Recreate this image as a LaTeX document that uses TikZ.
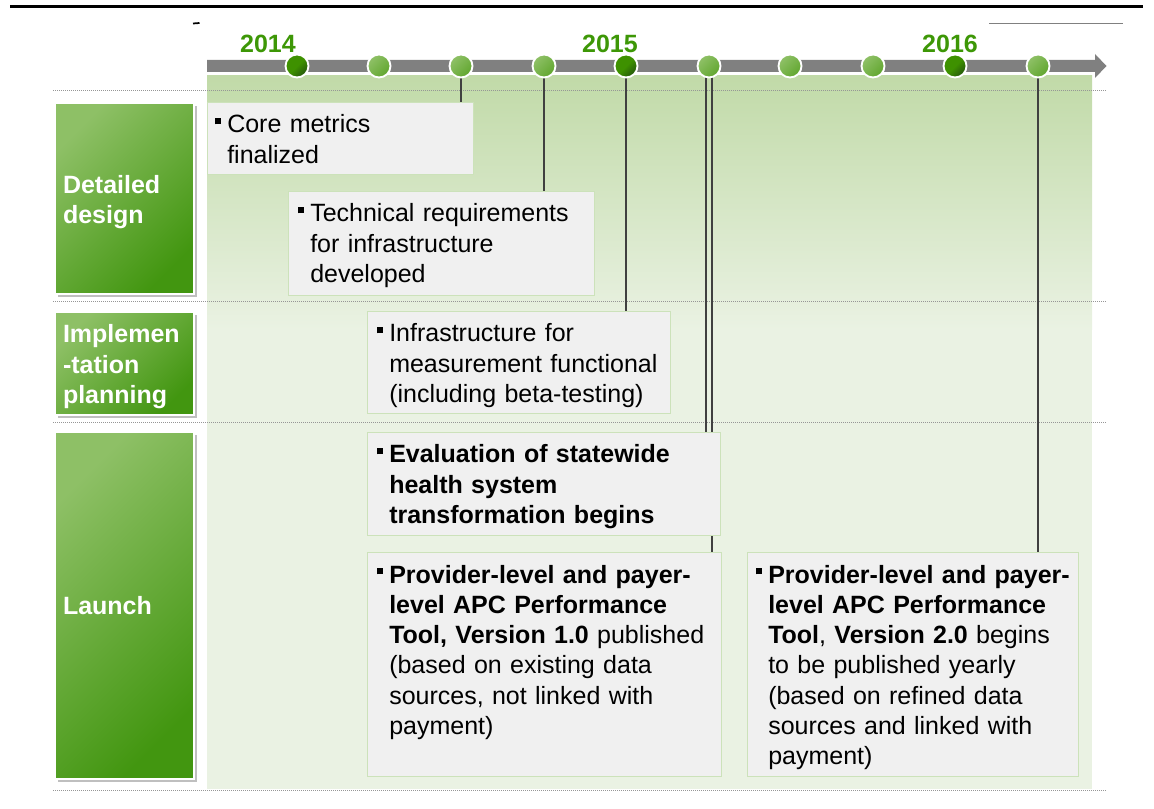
\documentclass[tikz,border=0pt]{standalone}
\usepackage{fontspec}
\setmainfont{Liberation Sans}
\usetikzlibrary{shadows}
\definecolor{yeargreen}{RGB}{61,151,6}
\definecolor{bargray}{RGB}{128,128,128}
\definecolor{evfill}{RGB}{240,240,240}
\definecolor{evborder}{RGB}{204,226,186}
\definecolor{linegray}{RGB}{64,64,64}
\definecolor{sepgray}{RGB}{150,150,150}
\definecolor{bgtop}{RGB}{193,218,168}
\definecolor{bglight}{RGB}{234,242,227}
\definecolor{phlight}{RGB}{142,192,102}
\definecolor{phdark}{RGB}{66,150,16}
\definecolor{dotdarkA}{RGB}{62,145,0}
\definecolor{dotdarkB}{RGB}{36,86,12}
\definecolor{dotlightA}{RGB}{144,193,104}
\definecolor{dotlightB}{RGB}{96,166,46}
\newcommand\sqbul{\leavevmode\llap{\rule[6.4pt]{4.5pt}{4.5pt}\hspace{4.5pt}}}
\newcommand\phstrut{\rule{0pt}{18.5pt}}
\pgfdeclarelayer{back}
\pgfdeclarelayer{lines}
\pgfsetlayers{back,lines,main}
\tikzset{
  evbox/.style={draw=evborder, fill=evfill, line width=0.75pt, anchor=north west, inner sep=0pt},
  evtext/.style={anchor=base west, inner sep=0pt, text width=260pt, align=left,
    font=\fontsize{18.75}{22.7}\selectfont},
  phase/.style={minimum width=104.25pt, text width=92.25pt, inner xsep=6pt, inner ysep=0pt,
    align=left, text=white, font=\fontsize{18.75}{22.7}\selectfont\bfseries,
    draw=white, line width=1.1pt, top color=phlight, bottom color=phdark, shading angle=45,
    drop shadow={shadow xshift=2.2pt, shadow yshift=-2.2pt, opacity=0.5}},
  tdot/.style={circle, minimum size=17.25pt, inner sep=0pt, draw=white, line width=1.4pt},
  darkdot/.style={tdot, top color=dotdarkA, bottom color=dotdarkB, middle color=dotdarkA, shading angle=45},
  lightdot/.style={tdot, top color=dotlightA, bottom color=dotlightB, shading angle=45},
  year/.style={anchor=base, inner sep=0pt, text=yeargreen, font=\fontsize{18.75}{22}\selectfont\bfseries},
  conn/.style={draw=linegray, line width=1.1pt},
  sepline/.style={draw=sepgray, line width=0.75pt, dash pattern=on 0.75pt off 0.75pt}
}
\begin{document}
\begin{tikzpicture}[x=0.75pt,y=-0.75pt]
\useasboundingbox (0,0) rectangle (1154,809);
% top decorations
\draw[black, line width=1.6pt] (10,6.5) -- (1143,6.5);
\draw[black, line width=1.3pt] (193,23.5) -- (199.5,23);
\draw[bargray, line width=1.1pt] (989,23.5) -- (1123,23.5);
% background
\begin{pgfonlayer}{back}
  \shade[top color=bgtop, bottom color=bglight] (207,76) rectangle (1092,330);
  \fill[bglight] (207,329.5) rectangle (1092,789);
  \draw[sepline] (53,91) -- (1106,91);
  \draw[sepline] (53,302) -- (1106,302);
  \draw[sepline] (53,423) -- (1106,423);
  \draw[sepline] (53,790.5) -- (1106,790.5);
\end{pgfonlayer}
% timeline bar
\fill[bargray] (207,60) -- (1095,60) -- (1095,54) -- (1106.5,66) -- (1095,78) -- (1095,72) -- (207,72) -- cycle;
% years
\node[year] (y1) at (268,53) {2014};
\node[year] (y2) at (610,53) {2015};
\node[year] (y3) at (950,53) {2016};
% milestone dots
\node[darkdot]  (c1)  at (297,66) {};
\node[lightdot] (c2)  at (379,66) {};
\node[lightdot] (c3)  at (461,66) {};
\node[lightdot] (c4)  at (544,66) {};
\node[darkdot]  (c5)  at (626,66) {};
\node[lightdot] (c6)  at (709,66) {};
\node[lightdot] (c7)  at (790,66) {};
\node[lightdot] (c8)  at (873,66) {};
\node[darkdot]  (c9)  at (955,66) {};
\node[lightdot] (c10) at (1038,66) {};
% phase boxes
\node[phase, minimum height=143.25pt] (p1) at (124.5,198.5) {\phstrut Detailed\\design};
\node[phase, minimum height=77.25pt] (p2) at (124.5,363.5) {\phstrut Implemen\\-tation\\planning};
\node[phase, minimum height=260.25pt] (p3) at (124.5,605.5) {Launch};
% event boxes
\node[evbox, minimum width=199.5pt, minimum height=54pt] (e1) at (207,102) {};
\node[evbox, minimum width=229.5pt, minimum height=78pt] (e2) at (288,191) {};
\node[evbox, minimum width=227.25pt, minimum height=76.5pt] (e3) at (367,311) {};
\node[evbox, minimum width=264.75pt, minimum height=77.25pt] (e4) at (367,432) {};
\node[evbox, minimum width=265.5pt, minimum height=168pt] (e5) at (367,552) {};
\node[evbox, minimum width=248.25pt, minimum height=168pt] (e6) at (747,552) {};
% event texts
\node[evtext] (t1) at ([shift={(20,31)}]e1.north west) {\sqbul Core metrics\\finalized};
\node[evtext] (t2) at ([shift={(22,31)}]e2.north west) {\sqbul Technical requirements\\for infrastructure\\developed};
\node[evtext] (t3) at ([shift={(22,31)}]e3.north west) {\sqbul Infrastructure for\\measurement functional\\(including beta-testing)};
\node[evtext] (t4) at ([shift={(22,31)}]e4.north west) {\bfseries\sqbul Evaluation of statewide\\health system\\transformation begins};
\node[evtext] (t5) at ([shift={(22,31)}]e5.north west) {\sqbul\textbf{Provider-level and payer-}\\\textbf{level APC Performance}\\\textbf{Tool, Version 1.0} published\\(based on existing data\\sources, not linked with\\payment)};
\node[evtext] (t6) at ([shift={(21,31)}]e6.north west) {\sqbul\textbf{Provider-level and payer-}\\\textbf{level APC Performance}\\\textbf{Tool}, \textbf{Version 2.0} begins\\to be published yearly\\(based on refined data\\sources and linked with\\payment)};
% connectors
\begin{pgfonlayer}{lines}
  \draw[conn] (c3.center) -- (c3.center |- e1.north);
  \draw[conn] (c4.center) -- (c4.center |- e2.north);
  \draw[conn] (c5.center) -- (c5.center |- e3.north);
  \draw[conn] ([xshift=-2.25pt]c6.center) -- ([xshift=-2.25pt]c6.center |- e4.north);
  \draw[conn] ([xshift=2.25pt]c6.center) -- ([xshift=2.25pt]c6.center |- e5.north);
  \draw[conn] (c10.center) -- (c10.center |- e6.north);
\end{pgfonlayer}
\end{tikzpicture}
\end{document}
